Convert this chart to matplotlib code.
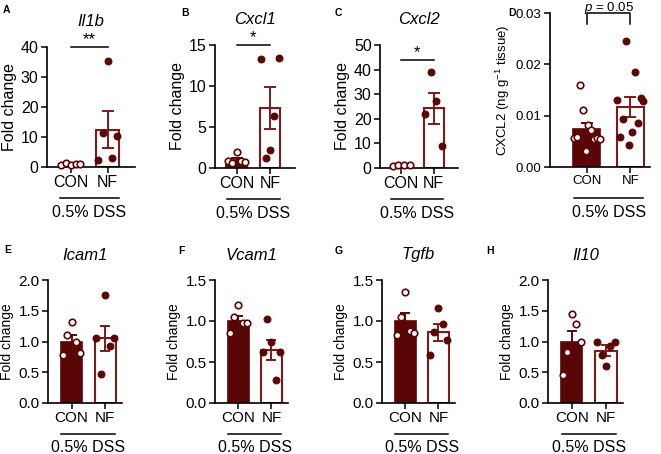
import numpy as np
import matplotlib
matplotlib.use("Agg")
import matplotlib.pyplot as plt
from matplotlib.transforms import blended_transform_factory

plt.rcParams['font.family'] = ['Liberation Sans', 'DejaVu Sans']
plt.rcParams['mathtext.fontset'] = 'custom'
plt.rcParams['mathtext.it'] = 'Liberation Sans:italic'
plt.rcParams['mathtext.rm'] = 'Liberation Sans'

W, H = 661, 454
DARK = '#5a0606'
EDGE = '#7d1a1a'

groups = ['CON', 'NF']

# panel data
titles = ['Il1b', 'Cxcl1', 'Cxcl2', None, 'Icam1', 'Vcam1', 'Tgfb', 'Il10']
letters = ['A', 'B', 'C', 'D', 'E', 'F', 'G', 'H']

con_mean = [1.0, 1.0, 1.0, 0.0074, 1.0, 1.0, 1.0, 1.0]
con_sem = [0.15, 0.25, 0.1, 0.0011, 0.1, 0.06, 0.1, 0.17]
nf_mean = [12.5, 7.3, 24.3, 0.0117, 1.05, 0.65, 0.86, 0.85]
nf_sem = [6.1, 2.6, 6.3, 0.0020, 0.21, 0.12, 0.10, 0.09]

con_pts = [
    [0.8, 1.5, 0.7, 1.0, 0.9],
    [0.8, 0.6, 1.9, 0.9, 0.7],
    [0.9, 1.3, 1.3, 1.1],
    [0.0056, 0.0058, 0.0160, 0.0111, 0.0032, 0.0082, 0.0072, 0.0055, 0.0056, 0.0055],
    [0.78, 1.10, 1.32, 1.00, 0.82],
    [0.85, 1.05, 1.20, 0.97, 0.97],
    [0.83, 1.05, 1.35, 0.88, 0.85],
    [0.45, 0.83, 1.45, 1.28, 1.00],
]
nf_pts = [
    [2.5, 11.5, 35.5, 3.0, 10.5],
    [13.3, 1.2, 2.2, 6.4, 13.4],
    [22.0, 39.2, 27.2, 9.0],
    [0.0131, 0.0059, 0.0093, 0.0245, 0.0043, 0.0069, 0.0185, 0.0085, 0.0134, 0.0129],
    [1.06, 0.47, 1.75, 0.93, 1.05],
    [0.62, 1.02, 0.75, 0.28, 0.62],
    [0.58, 0.86, 1.16, 0.96, 0.77],
    [1.00, 0.78, 0.60, 0.92, 1.00],
]

ylims = [40, 15, 50, 0.03, 2.0, 1.5, 1.5, 2.0]
ysteps = [10, 5, 10, 0.01, 0.5, 0.5, 0.5, 0.5]
yfmt = ['%d', '%d', '%d', '%.2f', '%.1f', '%.1f', '%.1f', '%.1f']
sig = ['**', '*', '*', 'p', None, None, None, None]

# axes boxes in pixels: left, right, top, bottom
boxes = [
    (47, 135, 47, 167), (215, 295, 45, 168), (380, 458, 45, 168),
    (550, 650, 13, 167),
    (48, 122, 280, 403), (215, 288, 280, 403), (382, 455, 280, 403),
    (548, 623, 280, 403),
]
letter_xy = [(3, 10), (181, 13), (335, 13), (508, 13),
             (4, 250), (178, 251), (335, 251), (486, 251)]

fig = plt.figure(figsize=(W / 100, H / 100), dpi=100)

for i in range(8):
    l, r, t, b = boxes[i]
    ax = fig.add_axes([l / W, 1 - b / H, (r - l) / W, (b - t) / H])
    hpx = b - t
    if i < 3:
        yfs, xfs, lfs = 11.5, 11.5, 11.5
    elif i == 3:
        yfs, xfs, lfs = 9.5, 9.5, 9.5
    else:
        yfs, xfs, lfs = 11, 11, 10

    x = np.arange(2)
    ax.bar(0, con_mean[i], width=0.62, color=DARK, edgecolor=DARK, lw=1.2, zorder=2)
    ax.bar(1, nf_mean[i], width=0.62, color='white', edgecolor=EDGE, lw=1.5, zorder=2)
    cs = 4.5 if i < 4 else 3.5
    ax.errorbar(0, con_mean[i], yerr=con_sem[i], color=DARK, lw=1.4, capsize=cs,
                capthick=1.4, zorder=3)
    ax.errorbar(1, nf_mean[i], yerr=nf_sem[i], color=EDGE, lw=1.4, capsize=cs,
                capthick=1.4, zorder=3)

    n = len(con_pts[i])
    spread = 0.26 if n <= 5 else 0.3
    ax.scatter(np.linspace(-spread, spread, n), con_pts[i], s=22, facecolor='white',
               edgecolor=DARK, lw=1.2, zorder=4, clip_on=False)
    n = len(nf_pts[i])
    ax.scatter(1 + np.linspace(-spread, spread, n), nf_pts[i], s=24, facecolor=DARK,
               edgecolor=DARK, lw=0.8, zorder=4, clip_on=False)

    ax.set_ylim(0, ylims[i])
    ticks = np.arange(0, ylims[i] + ysteps[i] / 2, ysteps[i])
    ax.set_yticks(ticks)
    ax.set_yticklabels([yfmt[i] % v for v in ticks])
    if i < 3:
        ax.set_xlim(-0.65, 1.75)
    elif i == 3:
        ax.set_xlim(-0.85, 1.45)
    else:
        ax.set_xlim(-0.7, 1.5)
    ax.set_xticks(x)
    ax.set_xticklabels(groups)
    ax.tick_params(axis='y', labelsize=yfs, length=4, width=1.1, pad=2)
    ax.tick_params(axis='x', labelsize=xfs, length=4, width=1.1, pad=2)
    for s in ['top', 'right']:
        ax.spines[s].set_visible(False)
    for s in ['left', 'bottom']:
        ax.spines[s].set_linewidth(1.2)

    if i == 3:
        ax.set_ylabel('CXCL2 (ng g$^{-1}$ tissue)', fontsize=lfs, labelpad=3)
    else:
        ax.set_ylabel('Fold change', fontsize=lfs, labelpad=3)

    tr = blended_transform_factory(ax.transData, ax.transAxes)
    lo = -31 / hpx
    ax.plot([-0.3, 1.3], [lo, lo], color='black', lw=1.1, transform=tr, clip_on=False)
    ax.text(0.5, -45 / hpx, '0.5% DSS', ha='center', va='center', fontsize=11.5,
            transform=tr)

    if titles[i]:
        ax.text(0.5, 1 + 25 / hpx, titles[i], ha='center', va='center', fontsize=12,
                style='italic', transform=ax.transAxes)

    if sig[i] == 'p':
        ax.plot([0, 0, 1, 1], [0.0278, 0.03, 0.03, 0.0278], color='black', lw=1.1,
                clip_on=False)
        ax.text(0.5, 0.0303, '$p$ = 0.05', ha='center', va='baseline', fontsize=9.5)
    elif sig[i]:
        yl = ylims[i] if i < 2 else 44
        ax.plot([0, 1], [yl, yl], color='black', lw=1.1, clip_on=False)
        ax.text(0.5, yl, sig[i], ha='center', va='bottom', fontsize=12)

    lx, ly = letter_xy[i]
    fig.text(lx / W, 1 - ly / H, letters[i], fontsize=7.5, fontweight='bold',
             ha='left', va='center')

fig.savefig('out.png', dpi=100)
